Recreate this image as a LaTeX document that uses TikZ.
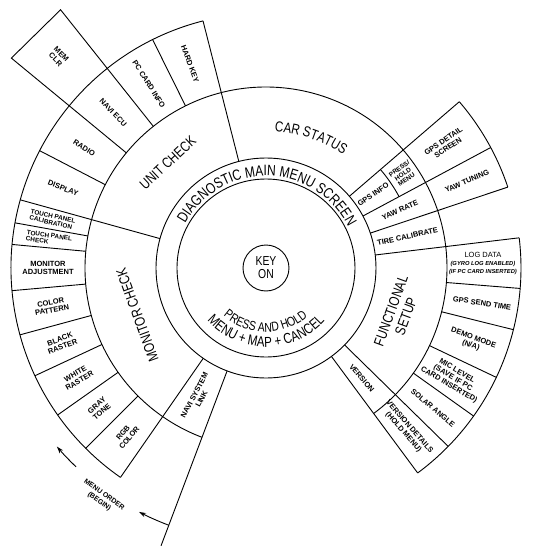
\documentclass[tikz,border=0pt]{standalone}
\usepackage{fontspec}
\setmainfont{Liberation Sans}
\newfontfamily\condfont{Liberation Sans}[FakeStretch=0.8]
\usetikzlibrary{arrows.meta,decorations.text}
\tikzset{
  rim/.style={draw=black,line width=0.9pt},
  hub/.style={font=\condfont\fontsize{14.5}{16}\selectfont,align=center,inner sep=0pt},
  leaf/.style={font=\bfseries\fontsize{7.5}{8}\selectfont,align=center,inner sep=0pt},
  leafs/.style={leaf,font=\bfseries\fontsize{6.4}{6.4}\selectfont},
}

\begin{document}
\begin{tikzpicture}[x=1pt,y=1pt,>={Stealth[length=7pt,width=4.5pt]}]
  \useasboundingbox (-266,-287) rectangle (268,268);

  % centre and rings
  \node[rim,circle,minimum size=46pt,inner sep=0pt,align=center,
        font=\condfont\fontsize{13}{13}\selectfont] (key) at (0,0) {KEY\\ON};
  \draw[rim] (0,0) circle[radius=89];
  \draw[rim] (0,0) circle[radius=110];
  \draw[rim] (-53.5:181) arc[start angle=-53.5,end angle=249.3,radius=181];
  \draw[rim] (104.3:255) arc[start angle=104.3,end angle=235.2,radius=255];
  \draw[rim] (-53.5:255) arc[start angle=-53.5,end angle=6.8,radius=255];
  \draw[rim] (18.5:255) arc[start angle=18.5,end angle=40.7,radius=255];
  \draw[rim] (28.2:151) arc[start angle=28.2,end angle=40.7,radius=151];

  % spokes
  \foreach \a in {104.3,164.5,235.2,-53.5,-44.4,6.8,18.5,28.2,40.7}
    \draw[rim] (\a:110) -- (\a:255);
  \draw[rim] (249.3:110) -- (249.3:297);
  \foreach \a in {116.4,152.6,169.8,174.7,185.1,195.2,205,215.2,225,-4.6,-14,-25.4,-35.5}
    \draw[rim] (\a:181) -- (\a:255);
  \draw[rim] (128.5:181) -- (128.5:330) -- (140.5:330) -- (140.5:181);

  % curved titles
  \path[decorate,decoration={text along path,text align=center,
        text={|\condfont\fontsize{15}{15}\selectfont|DIAGNOSTIC MAIN MENU SCREEN}}]
    (165:92) arc[start angle=165,end angle=13,radius=92];
  \path[decorate,decoration={text along path,text align=center,
        text={|\condfont\fontsize{14.5}{15}\selectfont|CAR STATUS}}]
    (96:137) arc[start angle=96,end angle=46,radius=137];
  \path[decorate,decoration={text along path,text align=center,
        text={|\condfont\fontsize{13}{13}\selectfont|PRESS AND HOLD}}]
    (200:64) arc[start angle=200,end angle=339,radius=64];
  \path[decorate,decoration={text along path,text align=center,
        text={|\condfont\fontsize{14.5}{15}\selectfont|MENU + MAP + CANCEL}}]
    (200:79) arc[start angle=200,end angle=340,radius=79];

  % middle ring
  \node[hub,rotate=43]  (unit)  at (133:144) {UNIT CHECK};
  \node[hub,rotate=110] (mon)   at (200:137) {MONITOR CHECK};
  \node[hub,rotate=70]  (func)  at (-19:140) {FUNCTIONAL\\SETUP};
  \node[leaf,rotate=12.6] (tire)   at (12.6:145) {TIRE CALIBRATE};
  \node[leaf,rotate=23.4] (yawr)   at (23.4:146) {YAW RATE};
  \node[leaf,rotate=34.5] (gpsi)   at (34.5:130) {GPS INFO};
  \node[leafs,rotate=34.5] (press) at (34.5:166) {PRESS/\\HOLD\\MENU};
  \node[leaf,rotate=62.2] (navsys) at (242.2:146) {NAVI SYSTEM\\LINK};
  \node[leaf,rotate=-49]  (ver)    at (-49:146) {VERSION};

  % unit check items
  \node[leaf,rotate=-69.6] (hard)  at (110.4:218) {HARD KEY};
  \node[leaf,rotate=-57.5] (pcc)   at (122.5:218) {PC CARD INFO};
  \node[leaf,rotate=-45.5] (ecu)   at (134.5:218) {NAVI ECU};
  \node[leaf,rotate=-33.5] (radio) at (146.5:218) {RADIO};
  \node[leaf,rotate=-21.5] (disp)  at (158.5:218) {DISPLAY};
  \node[leaf,rotate=-45.5] (mem)   at (134.5:296) {MEM\\CLR};

  % monitor check items
  \node[leafs,align=left,rotate=-12.8] (tpcal) at (167.2:219) {TOUCH PANEL\\CALIBRATION};
  \node[leafs,align=left,rotate=-7.7]  (tpchk) at (172.3:219) {TOUCH PANEL\\CHECK};
  \node[leaf,rotate=0]    (madj)  at (179.9:218) {MONITOR\\ADJUSTMENT};
  \node[leaf,rotate=10.1] (color) at (190.1:218) {COLOR\\PATTERN};
  \node[leaf,rotate=20.1] (black) at (200.1:218) {BLACK\\RASTER};
  \node[leaf,rotate=30.1] (white) at (210.1:218) {WHITE\\RASTER};
  \node[leaf,rotate=40.1] (gray)  at (220.1:218) {GRAY\\TONE};
  \node[leaf,rotate=50.1] (rgb)   at (230.1:218) {RGB\\COLOR};

  % car status items
  \node[leaf,rotate=23.4] (yawt) at (23.4:219) {YAW TUNING};
  \node[leaf,rotate=34.5] (gpsd) at (34.5:218) {GPS DETAIL\\SCREEN};

  % functional setup items
  \node[leaf,font=\bfseries\itshape\fontsize{5.8}{8}\selectfont] (log) at (1.2:217)
    {{\mdseries\upshape\fontsize{7.5}{8}\selectfont LOG DATA}\\(GYRO LOG ENABLED)\\(IF PC CARD INSERTED)};
  \node[leaf,rotate=-9.3]  (gpst)  at (-9.3:219)  {GPS SEND TIME};
  \node[leaf,rotate=-19.7] (demo)  at (-19.7:219) {DEMO MODE\\(N/A)};
  \node[leaf,rotate=-30.5] (mic)   at (-30.5:217) {MIC LEVEL\\(SAVE IF PC\\CARD INSERTED)};
  \node[leaf,rotate=-40]   (solar) at (-40:218)   {SOLAR ANGLE};
  \node[leaf,rotate=-49]   (verd)  at (-49:214)   {VERSION DETAILS\\(HOLD MENU)};

  % menu order
  \draw[rim,->] (249.3:275) arc[start angle=249.3,end angle=242.5,radius=275];
  \draw[rim,->] (226.3:275) arc[start angle=226.3,end angle=220.5,radius=275];
  \node[leaf,font=\bfseries\fontsize{7}{8.5}\selectfont,rotate=-35.5] (order) at (234.5:283)
    {MENU ORDER\\(BEGIN)};
\end{tikzpicture}
\end{document}
